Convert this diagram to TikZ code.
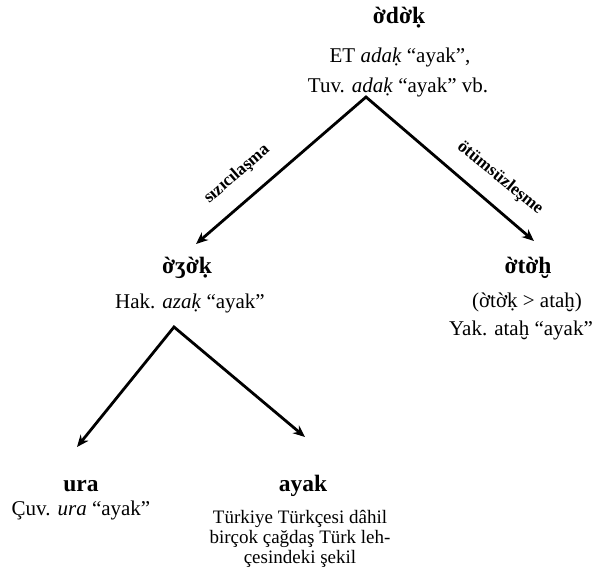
\documentclass[tikz,border=0pt]{standalone}
\usepackage{fontspec}
\setmainfont{Liberation Serif}
\usetikzlibrary{arrows.meta}
\begin{document}
\begin{tikzpicture}[x=1pt,y=-1pt,
  head/.style={font=\fontsize{23.5}{26}\selectfont\bfseries, inner sep=0pt, anchor=base},
  txt/.style={font=\fontsize{21}{24}\selectfont, inner sep=0pt, anchor=base},
  small/.style={font=\fontsize{19}{20}\selectfont, inner sep=0pt, anchor=base},
  lab/.style={font=\fontsize{17.5}{19}\selectfont\bfseries, inner sep=0pt},
  arr/.style={line width=2.8pt, {Stealth[length=12pt,width=10pt]}-{Stealth[length=12pt,width=10pt]}, line join=miter}]
\useasboundingbox (0,0) rectangle (601,571);
% top
\node[head] (h1) at (399,23) {ờdờḳ};
\node[txt] (et) at (400,62) {ET \textit{adaḳ} “ayak”,};
\node[txt] (tuv) at (398,92) {Tuv. \textit{adaḳ} “ayak” vb.};
\coordinate (apex1) at (366,97);
\coordinate (tipL1) at (196,244);
\coordinate (tipR1) at (534,241);
\draw[arr] (tipL1) -- (apex1) -- (tipR1);
\node[lab, rotate=41] (l1) at (237,174) {sızıcılaşma};
\node[lab, rotate=-39] (l2) at (500,178) {ötümsüzleşme};
% middle left
\node[head] (h2) at (187,273) {ờʒờḳ};
\node[txt] (hak) at (190,308) {Hak. \textit{azaḳ} “ayak”};
% middle right
\node[head] (h3) at (528,273) {ờtờḫ};
\node[txt] (par) at (527,307) {(ờtờḳ > ataḫ)};
\node[txt] (yak) at (521,335) {Yak. ataḫ “ayak”};
% second branching
\coordinate (apex2) at (174,327);
\coordinate (tipL2) at (77,447);
\coordinate (tipR2) at (305,437);
\draw[arr] (tipL2) -- (apex2) -- (tipR2);
% bottom
\node[head] (h4) at (81,491) {ura};
\node[txt] (cuv) at (81,515) {Çuv. \textit{ura} “ayak”};
\node[head] (h5) at (303,491) {ayak};
\node[small] (t1) at (300,523) {Türkiye Türkçesi dâhil};
\node[small] (t2) at (300,543) {birçok çağdaş Türk leh-};
\node[small] (t3) at (300,563) {çesindeki şekil};
\end{tikzpicture}
\end{document}
